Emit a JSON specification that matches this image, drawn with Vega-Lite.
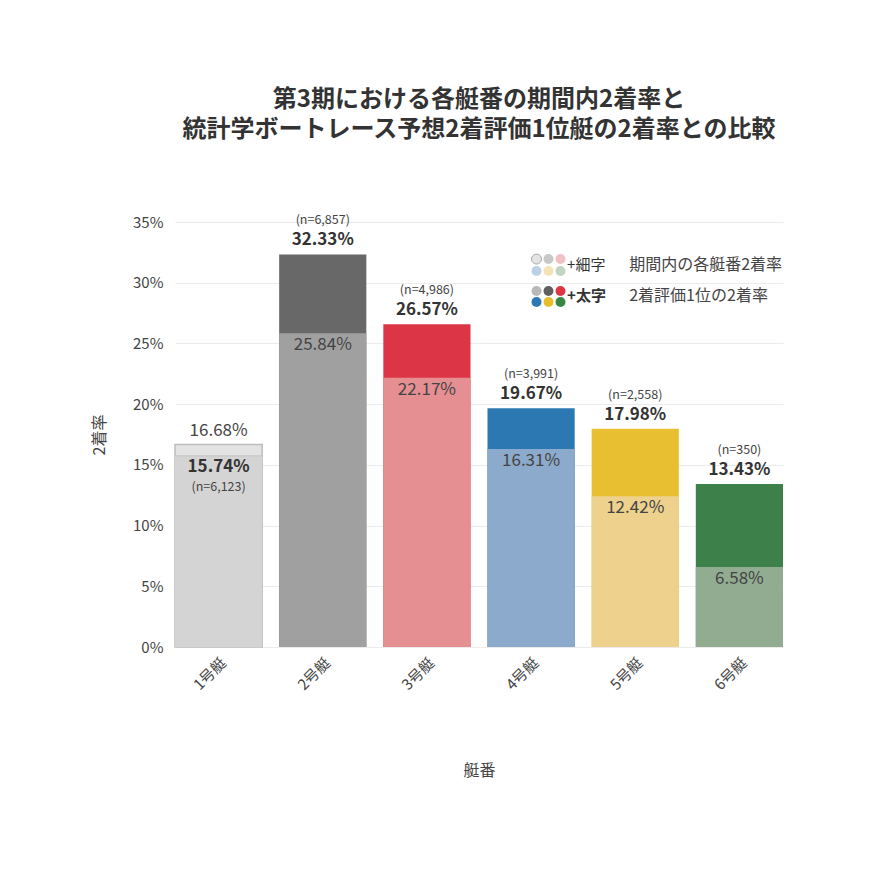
{
  "$schema": "https://vega.github.io/schema/vega-lite/v6.json",
  "autosize": {"type": "none"},
  "padding": {"left": 175, "top": 222, "right": 87, "bottom": 223},
  "width": 608,
  "height": 425,
  "background": "white",
  "config": {
    "font": "Noto Sans CJK JP",
    "view": {"stroke": null},
    "axis": {"labelColor": "#444", "titleColor": "#444", "labelFontSize": 15, "titleFontSize": 16, "titleFontWeight": "normal"}
  },
  "title": {
    "text": ["第3期における各艇番の期間内2着率と", "統計学ボートレース予想2着評価1位艇の2着率との比較"],
    "fontSize": 24,
    "fontWeight": "bold",
    "color": "#333",
    "lineHeight": 30,
    "anchor": "middle",
    "offset": 72
  },
  "data": {
    "values": [
      {"boat": "1号艇", "thin": 0.1668, "bold": 0.1574, "n": 6123},
      {"boat": "2号艇", "thin": 0.2584, "bold": 0.3233, "n": 6857},
      {"boat": "3号艇", "thin": 0.2217, "bold": 0.2657, "n": 4986},
      {"boat": "4号艇", "thin": 0.1631, "bold": 0.1967, "n": 3991},
      {"boat": "5号艇", "thin": 0.1242, "bold": 0.1798, "n": 2558},
      {"boat": "6号艇", "thin": 0.0658, "bold": 0.1343, "n": 350}
    ]
  },
  "encoding": {
    "x": {
      "field": "boat",
      "type": "nominal",
      "title": "艇番",
      "scale": {"paddingInner": 0.163, "paddingOuter": 0},
      "axis": {"labelAngle": -45, "ticks": false, "domain": false, "labelPadding": 8, "titlePadding": 70}
    }
  },
  "layer": [
    {
      "transform": [{"filter": "datum.boat === '1号艇'"}],
      "mark": {"type": "bar", "stroke": "#bdbdbd", "strokeWidth": 1.5},
      "encoding": {
        "y": {
          "field": "thin",
          "type": "quantitative",
          "title": "2着率",
          "scale": {"domain": [0, 0.35]},
          "axis": {"values": [0, 0.05, 0.1, 0.15, 0.2, 0.25, 0.3, 0.35], "format": ".0%", "ticks": false, "domain": false, "gridColor": "#ebebeb", "labelPadding": 12, "titlePadding": 25, "titleColor": "#444"}
        },
        "color": {"field": "boat", "type": "nominal", "legend": null, "scale": {"domain": ["1号艇"], "range": ["#e3e3e3"]}}
      }
    },
    {
      "mark": {"type": "bar"},
      "encoding": {
        "y": {"field": "bold", "type": "quantitative"},
        "color": {
          "field": "boat", "type": "nominal", "legend": null,
          "scale": {"domain": ["1号艇", "2号艇", "3号艇", "4号艇", "5号艇", "6号艇"], "range": ["#d4d4d4", "#686868", "#dc3545", "#2b78b2", "#e9bf32", "#3e8049"]}
        }
      }
    },
    {
      "transform": [{"filter": "datum.boat !== '1号艇'"}],
      "mark": {"type": "bar"},
      "encoding": {
        "y": {"field": "thin", "type": "quantitative"},
        "color": {
          "field": "boat", "type": "nominal", "legend": null,
          "scale": {"domain": ["2号艇", "3号艇", "4号艇", "5号艇", "6号艇"], "range": ["#a0a0a0", "#e68f93", "#8caacb", "#eed18d", "#92ac92"]}
        }
      }
    },
    {
      "transform": [{"filter": "datum.boat === '1号艇'"}],
      "mark": {"type": "rule", "color": "#c4c4c4", "strokeWidth": 1},
      "encoding": {
        "y": {"field": "bold", "type": "quantitative"},
        "x": {"field": "boat", "type": "nominal", "bandPosition": 0},
        "x2": {"field": "boat", "bandPosition": 1}
      }
    },
    {
      "transform": [{"filter": "datum.boat !== '1号艇'"}],
      "mark": {"type": "text", "baseline": "bottom", "dy": -5, "fontSize": 17, "fontWeight": "bold", "color": "#333"},
      "encoding": {
        "y": {"field": "bold", "type": "quantitative"},
        "text": {"field": "bold", "type": "quantitative", "format": ".2%"}
      }
    },
    {
      "transform": [
        {"filter": "datum.boat !== '1号艇'"},
        {"calculate": "'(n=' + format(datum.n, ',') + ')'", "as": "nlabel"}
      ],
      "mark": {"type": "text", "baseline": "bottom", "dy": -27, "fontSize": 12.5, "color": "#444"},
      "encoding": {
        "y": {"field": "bold", "type": "quantitative"},
        "text": {"field": "nlabel", "type": "nominal"}
      }
    },
    {
      "transform": [{"filter": "datum.boat !== '1号艇'"}],
      "mark": {"type": "text", "baseline": "middle", "dy": 12, "fontSize": 17, "color": "#444"},
      "encoding": {
        "y": {"field": "thin", "type": "quantitative"},
        "text": {"field": "thin", "type": "quantitative", "format": ".2%"}
      }
    },
    {
      "transform": [{"filter": "datum.boat === '1号艇'"}],
      "mark": {"type": "text", "baseline": "middle", "dy": -13, "fontSize": 17, "color": "#444"},
      "encoding": {
        "y": {"field": "thin", "type": "quantitative"},
        "text": {"field": "thin", "type": "quantitative", "format": ".2%"}
      }
    },
    {
      "transform": [{"filter": "datum.boat === '1号艇'"}],
      "mark": {"type": "text", "baseline": "middle", "dy": 11, "fontSize": 17, "fontWeight": "bold", "color": "#333"},
      "encoding": {
        "y": {"field": "bold", "type": "quantitative"},
        "text": {"field": "bold", "type": "quantitative", "format": ".2%"}
      }
    },
    {
      "transform": [
        {"filter": "datum.boat === '1号艇'"},
        {"calculate": "'(n=' + format(datum.n, ',') + ')'", "as": "nlabel"}
      ],
      "mark": {"type": "text", "baseline": "middle", "dy": 31, "fontSize": 12.5, "color": "#444"},
      "encoding": {
        "y": {"field": "bold", "type": "quantitative"},
        "text": {"field": "nlabel", "type": "nominal"}
      }
    },
    {
      "data": {"values": [{"boat": "1号艇"}, {"boat": "2号艇"}, {"boat": "3号艇"}]},
      "mark": {"type": "point", "filled": true, "size": 100, "opacity": 1, "stroke": "#a8a8a8"},
      "encoding": {
        "x": {"datum": "4号艇"},
        "xOffset": {"field": "boat", "type": "nominal", "scale": {"type": "point", "domain": ["1号艇", "2号艇", "3号艇"], "range": [49, 73], "padding": 0}},
        "y": {"datum": 0.3195},
        "strokeWidth": {"condition": {"test": "datum.boat === '1号艇'", "value": 1}, "value": 0},
        "color": {
          "field": "boat", "type": "nominal", "legend": null,
          "scale": {"domain": ["1号艇", "2号艇", "3号艇"], "range": ["#e4e4e4", "#c8c8c8", "#f0c0c5"]}
        }
      }
    },
    {
      "data": {"values": [{"boat": "4号艇"}, {"boat": "5号艇"}, {"boat": "6号艇"}]},
      "mark": {"type": "point", "filled": true, "size": 100, "opacity": 1},
      "encoding": {
        "x": {"datum": "4号艇"},
        "xOffset": {"field": "boat", "type": "nominal", "scale": {"type": "point", "domain": ["4号艇", "5号艇", "6号艇"], "range": [49, 73], "padding": 0}},
        "y": {"datum": 0.3096},
        "color": {
          "field": "boat", "type": "nominal", "legend": null,
          "scale": {"domain": ["4号艇", "5号艇", "6号艇"], "range": ["#bdd0e6", "#f4e3b5", "#c2d4c2"]}
        }
      }
    },
    {
      "data": {"values": [{"boat": "1号艇"}, {"boat": "2号艇"}, {"boat": "3号艇"}]},
      "mark": {"type": "point", "filled": true, "size": 100, "opacity": 1},
      "encoding": {
        "x": {"datum": "4号艇"},
        "xOffset": {"field": "boat", "type": "nominal", "scale": {"type": "point", "domain": ["1号艇", "2号艇", "3号艇"], "range": [49, 73], "padding": 0}},
        "y": {"datum": 0.2932},
        "color": {
          "field": "boat", "type": "nominal", "legend": null,
          "scale": {"domain": ["1号艇", "2号艇", "3号艇"], "range": ["#b8b8b8", "#5f5f5f", "#dc3545"]}
        }
      }
    },
    {
      "data": {"values": [{"boat": "4号艇"}, {"boat": "5号艇"}, {"boat": "6号艇"}]},
      "mark": {"type": "point", "filled": true, "size": 100, "opacity": 1},
      "encoding": {
        "x": {"datum": "4号艇"},
        "xOffset": {"field": "boat", "type": "nominal", "scale": {"type": "point", "domain": ["4号艇", "5号艇", "6号艇"], "range": [49, 73], "padding": 0}},
        "y": {"datum": 0.2841},
        "color": {
          "field": "boat", "type": "nominal", "legend": null,
          "scale": {"domain": ["4号艇", "5号艇", "6号艇"], "range": ["#2a78b5", "#e8bd2e", "#3a8745"]}
        }
      }
    },
    {
      "data": {"values": [{}]},
      "mark": {"type": "text", "align": "left", "baseline": "middle", "dx": 36, "dy": -18, "fontSize": 15, "color": "#333"},
      "encoding": {"x": {"datum": "4号艇"}, "y": {"datum": 0.3}, "text": {"value": "+細字"}}
    },
    {
      "data": {"values": [{}]},
      "mark": {"type": "text", "align": "left", "baseline": "middle", "dx": 36, "dy": 13, "fontSize": 15, "fontWeight": "bold", "color": "#333"},
      "encoding": {"x": {"datum": "4号艇"}, "y": {"datum": 0.3}, "text": {"value": "+太字"}}
    },
    {
      "data": {"values": [{}]},
      "mark": {"type": "text", "align": "left", "baseline": "middle", "dx": -6, "dy": -18, "fontSize": 16, "color": "#444"},
      "encoding": {"x": {"datum": "5号艇"}, "y": {"datum": 0.3}, "text": {"value": "期間内の各艇番2着率"}}
    },
    {
      "data": {"values": [{}]},
      "mark": {"type": "text", "align": "left", "baseline": "middle", "dx": -6, "dy": 13, "fontSize": 16, "color": "#444"},
      "encoding": {"x": {"datum": "5号艇"}, "y": {"datum": 0.3}, "text": {"value": "2着評価1位の2着率"}}
    }
  ],
  "resolve": {"scale": {"color": "independent", "xOffset": "independent", "yOffset": "independent"}}
}
